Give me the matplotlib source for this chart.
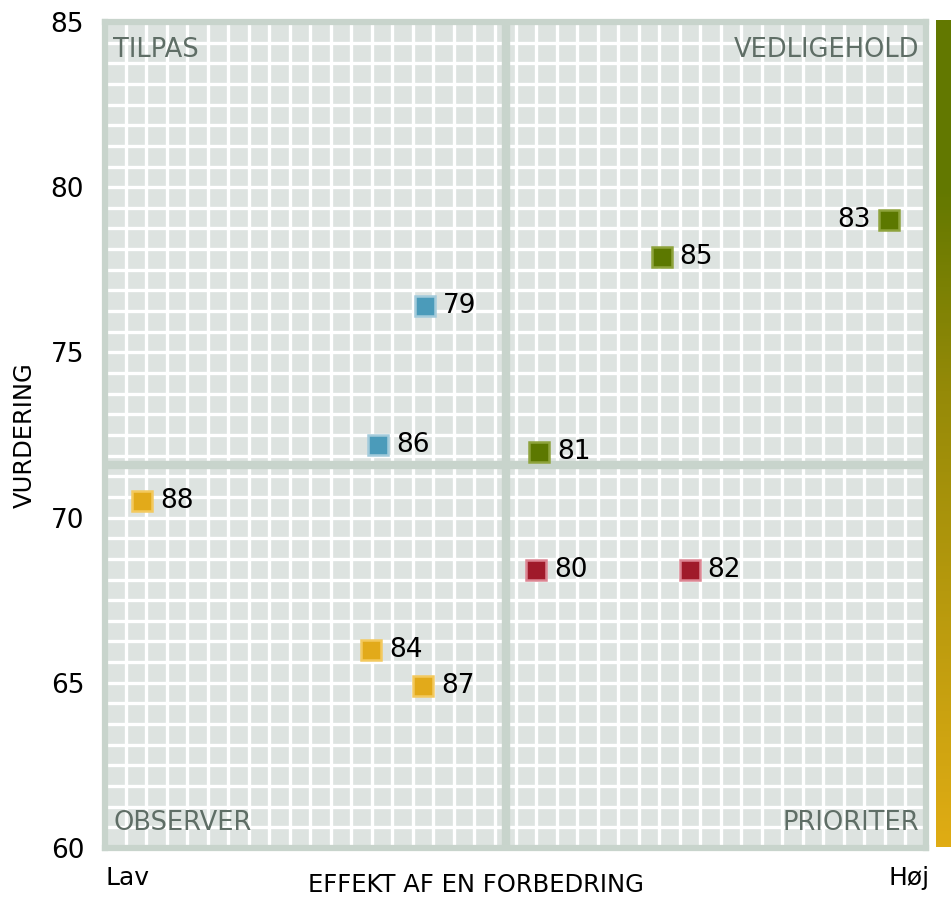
import matplotlib.pyplot as plt
import numpy as np
from matplotlib.colors import LinearSegmentedColormap

labels = ['79', '86', '81', '85', '83', '88', '80', '82', '84', '87']
effekt = [39.0, 33.3, 52.9, 67.8, 95.5, 4.5, 52.5, 71.2, 32.4, 38.7]
vurdering = [76.4, 72.2, 72.0, 77.9, 79.0, 70.5, 68.4, 68.4, 66.0, 64.9]
grp = ['blue', 'blue', 'green', 'green', 'green', 'yellow', 'red', 'red', 'yellow', 'yellow']

quadrants = ['TILPAS', 'VEDLIGEHOLD', 'OBSERVER', 'PRIORITER']
yticks = [60, 65, 70, 75, 80, 85]

face = {'green': '#5c7800', 'blue': '#4b9bba', 'yellow': '#e2aa1a', 'red': '#a01a2a'}
edge = {'green': '#8ea33c', 'blue': '#a3cbdb', 'yellow': '#f3c95e', 'red': '#dc8592'}

x_split = 48.8
y_split = 71.6
line_col = '#c8d4cc'

fig = plt.figure(figsize=(9.51, 9.01), dpi=100)
ax = fig.add_axes([105 / 951, 53 / 901, 821 / 951, 826 / 901])
ax.set_facecolor('#dde3e0')
ax.set_xlim(0, 100)
ax.set_ylim(60, 85)

# fine white grid
for gx in np.linspace(0, 100, 41)[1:-1]:
    ax.axvline(gx, color='white', lw=2.4, zorder=1)
for gy in np.linspace(60, 85, 41)[1:-1]:
    ax.axhline(gy, color='white', lw=2.4, zorder=1)

ax.axvline(x_split, color=line_col, lw=6, zorder=2)
ax.axhline(y_split, color=line_col, lw=6, zorder=2)

for s in ax.spines.values():
    s.set_color(line_col)
    s.set_linewidth(4.5)

ax.set_yticks(yticks)
ax.set_xticks([])
ax.tick_params(axis='y', length=0, labelsize=19, pad=15)
ax.set_ylabel('VURDERING', fontsize=17.5, labelpad=10)

qc = '#5f6e66'
qs = 18.5
ax.text(1.0, 84.55, quadrants[0], fontsize=qs, color=qc, ha='left', va='top', zorder=3)
ax.text(99.2, 84.55, quadrants[1], fontsize=qs, color=qc, ha='right', va='top', zorder=3)
ax.text(1.0, 60.35, quadrants[2], fontsize=qs, color=qc, ha='left', va='bottom', zorder=3)
ax.text(99.2, 60.35, quadrants[3], fontsize=qs, color=qc, ha='right', va='bottom', zorder=3)

for lab, x, y, g in zip(labels, effekt, vurdering, grp):
    ax.plot(x, y, marker='s', ms=14.5, mfc=face[g], mec=edge[g], mew=1.8, zorder=4)
    if lab == '83':
        ax.annotate(lab, (x, y), xytext=(-13, 0), textcoords='offset points',
                    ha='right', va='center', fontsize=19, zorder=5)
    else:
        ax.annotate(lab, (x, y), xytext=(13, 0), textcoords='offset points',
                    ha='left', va='center', fontsize=19, zorder=5)

ax.text(0, -0.022, 'Lav', transform=ax.transAxes, ha='left', va='top', fontsize=18)
ax.text(1.004, -0.022, 'Høj', transform=ax.transAxes, ha='right', va='top', fontsize=18)
fig.text(0.5, 4 / 901, 'EFFEKT AF EN FORBEDRING', ha='center', va='bottom', fontsize=17.5)

# colour bar at the right edge
cax = fig.add_axes([936 / 951, 54 / 901, 15 / 951, 827 / 901])
cmap = LinearSegmentedColormap.from_list(
    'bar', [(0, '#e0ac14'), (0.55, '#958a08'), (0.8, '#627800'), (1, '#627800')])
grad = np.linspace(1, 0, 256).reshape(-1, 1)
cax.imshow(grad, cmap=cmap, aspect='auto', extent=[0, 1, 0, 1])
cax.axis('off')

plt.savefig('out.png', dpi=100)
